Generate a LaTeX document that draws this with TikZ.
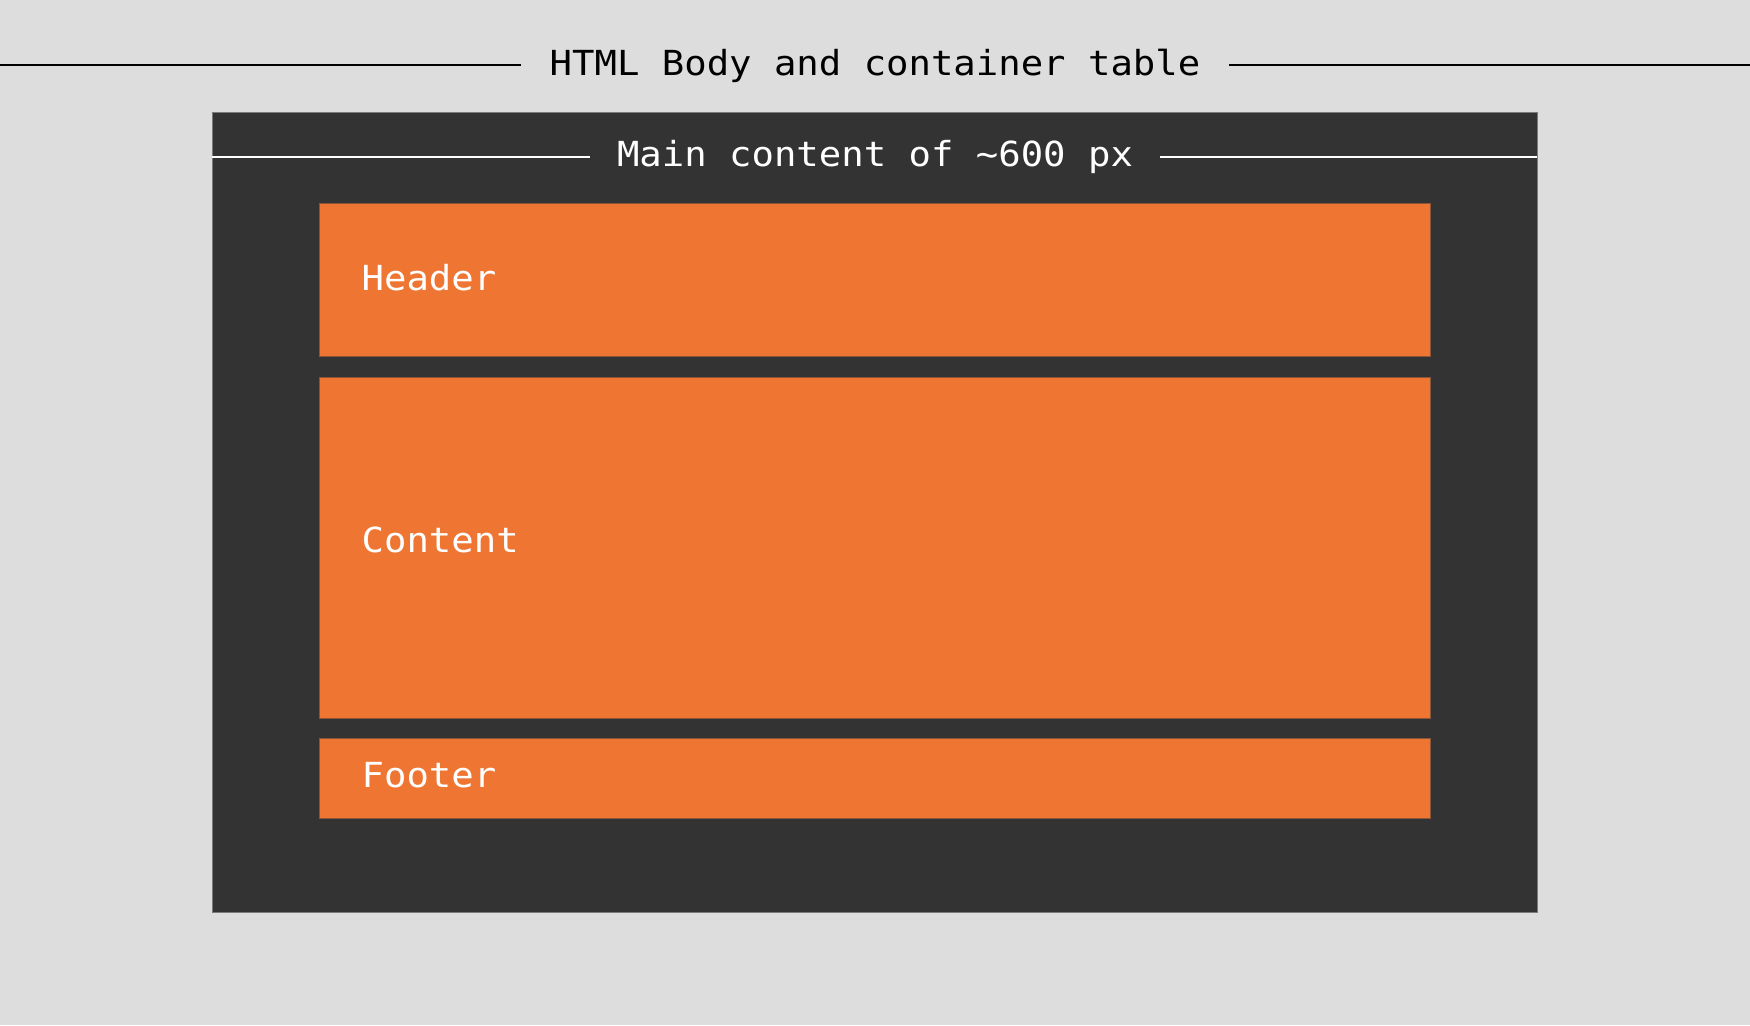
\documentclass[tikz,border=0pt]{standalone}
\usepackage{fontspec}
\newfontfamily\diagfont[FakeStretch=1.08]{DejaVu Sans Mono}
\definecolor{bgc}{HTML}{DDDDDD}
\definecolor{darkc}{HTML}{333333}
\definecolor{darkedge}{HTML}{7A7A7A}
\definecolor{orangec}{HTML}{EF7533}
\definecolor{orangeedge}{HTML}{8A5538}
\tikzset{
  txt/.style={font=\diagfont\fontsize{34.5}{40}\selectfont, inner sep=0pt},
  darkbox/.style={fill=darkc, draw=darkedge, line width=1pt, inner sep=0pt, outer sep=0pt, anchor=north west},
  orangebox/.style={fill=orangec, draw=orangeedge, line width=0.8pt, inner sep=0pt, outer sep=0pt, anchor=north west, minimum width=1111},
  lbl/.style={txt, text=white, anchor=base west},
  rule/.style={line width=2pt}
}
\begin{document}
\begin{tikzpicture}[x=1pt,y=-1pt]
\fill[bgc] (0,0) rectangle (1750,1025);
\useasboundingbox (0,0) rectangle (1750,1025);
% title
\node[txt, anchor=base, text=black, inner xsep=29pt] (title) at (875,75) {HTML Body and container table};
\coordinate (tl) at (0,65);
\coordinate (tr) at (1750,65);
\draw[rule, black] (tl) -- (tl -| title.west);
\draw[rule, black] (tr) -- (tr -| title.east);
% main container
\node[darkbox, minimum width=1325, minimum height=800] (main) at (212,112) {};
\node[txt, anchor=base, text=white, inner xsep=27pt] (maintitle) at (875,166.5) {Main content of \textasciitilde600 px};
\coordinate (ml) at (212,157);
\coordinate (mr) at (1537,157);
\draw[rule, white] (ml) -- (ml -| maintitle.west);
\draw[rule, white] (mr) -- (mr -| maintitle.east);
% inner boxes
\node[orangebox, minimum height=153] (header) at (319,203) {};
\node[orangebox, minimum height=341] (content) at (319,377) {};
\node[orangebox, minimum height=80] (footer) at (319,738) {};
\node[lbl] (headerlbl) at (361.5,290) {Header};
\node[lbl] (contentlbl) at (361.5,552) {Content};
\node[lbl] (footerlbl) at (361.5,787) {Footer};
\end{tikzpicture}
\end{document}
